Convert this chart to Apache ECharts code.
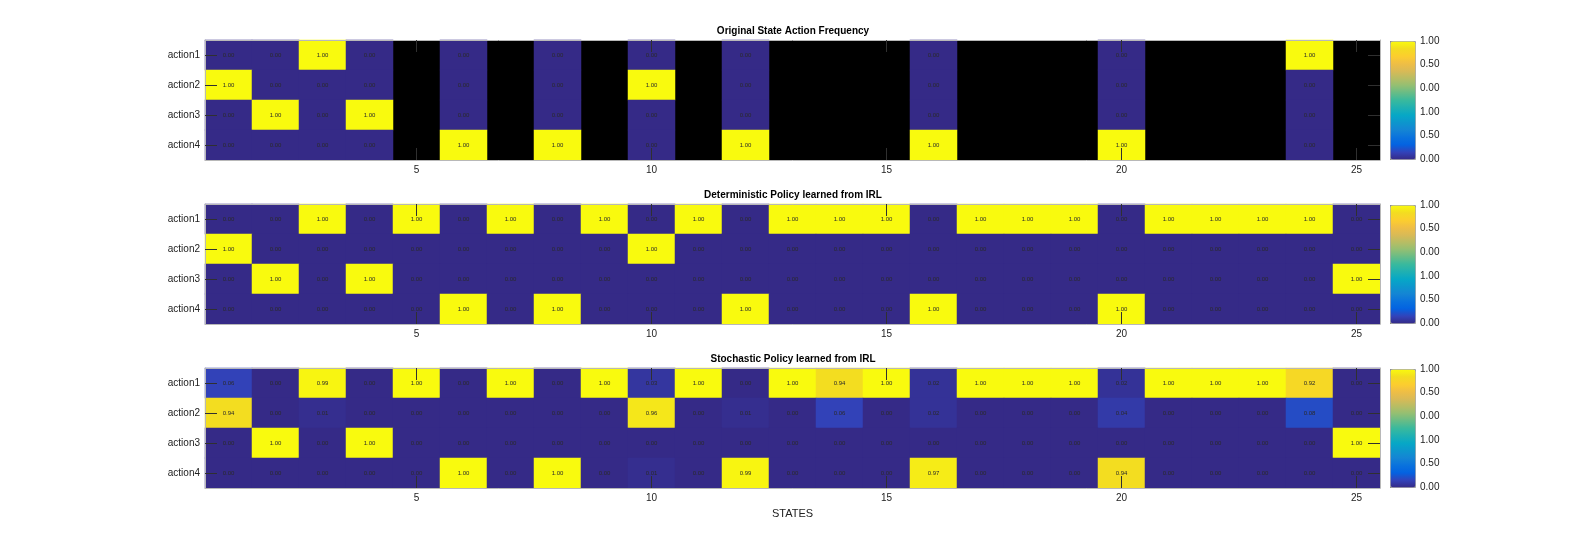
<!DOCTYPE html>
<html>
  <head>
    <meta charset="UTF-8">
    <title>State Action Policies</title>
    <script src="https://cdn.jsdelivr.net/npm/echarts@6/dist/echarts.min.js"></script>
    <style>
    * {
      margin: 0;
      padding: 0;
    }
    </style>
  </head>
  <body>
    <div id="main" style="width: 1581px;height: 548px"></div>

    <script>
// categories
var states = ['1', '2', '3', '4', '5', '6', '7', '8', '9', '10', '11', '12', '13',
  '14', '15', '16', '17', '18', '19', '20', '21', '22', '23', '24', '25']
var actions = ['action1', 'action2', 'action3', 'action4']
var titles = [
  'Original State Action Frequency',
  'Deterministic Policy learned from IRL',
  'Stochastic Policy learned from IRL'
]
// colorbar tick labels, bottom to top (as printed in the figure)
var cbarLabels = ['0.00', '0.50', '1.00', '0.00', '0.50', '1.00']

// original frequencies, null = state never visited (black)
var origA1 = [0, 0, 1, 0, null, 0, null, 0, null, 0, null, 0, null, null, null, 0, null, null, null, 0, null, null, null, 1, null]
var origA2 = [1, 0, 0, 0, null, 0, null, 0, null, 1, null, 0, null, null, null, 0, null, null, null, 0, null, null, null, 0, null]
var origA3 = [0, 1, 0, 1, null, 0, null, 0, null, 0, null, 0, null, null, null, 0, null, null, null, 0, null, null, null, 0, null]
var origA4 = [0, 0, 0, 0, null, 1, null, 1, null, 0, null, 1, null, null, null, 1, null, null, null, 1, null, null, null, 0, null]

// deterministic policy
var detA1 = [0, 0, 1, 0, 1, 0, 1, 0, 1, 0, 1, 0, 1, 1, 1, 0, 1, 1, 1, 0, 1, 1, 1, 1, 0]
var detA2 = [1, 0, 0, 0, 0, 0, 0, 0, 0, 1, 0, 0, 0, 0, 0, 0, 0, 0, 0, 0, 0, 0, 0, 0, 0]
var detA3 = [0, 1, 0, 1, 0, 0, 0, 0, 0, 0, 0, 0, 0, 0, 0, 0, 0, 0, 0, 0, 0, 0, 0, 0, 1]
var detA4 = [0, 0, 0, 0, 0, 1, 0, 1, 0, 0, 0, 1, 0, 0, 0, 1, 0, 0, 0, 1, 0, 0, 0, 0, 0]

// stochastic policy
var stoA1 = [0.06, 0, 0.99, 0, 1, 0, 1, 0, 1, 0.03, 1, 0, 1, 0.94, 1, 0.02, 1, 1, 1, 0.02, 1, 1, 1, 0.92, 0]
var stoA2 = [0.94, 0, 0.01, 0, 0, 0, 0, 0, 0, 0.96, 0, 0.01, 0, 0.06, 0, 0.02, 0, 0, 0, 0.04, 0, 0, 0, 0.08, 0]
var stoA3 = [0, 1, 0, 1, 0, 0, 0, 0, 0, 0, 0, 0, 0, 0, 0, 0, 0, 0, 0, 0, 0, 0, 0, 0, 1]
var stoA4 = [0, 0, 0, 0, 0, 1, 0, 1, 0, 0.01, 0, 0.99, 0, 0, 0, 0.97, 0, 0, 0, 0.94, 0, 0, 0, 0, 0]

var parula = ['#352a87', '#3243ba', '#0363e1', '#0a72dd', '#1485d4', '#0d96cd', '#06a7c6', '#1fb0b2',
  '#38b99e', '#65bc88', '#92bf73', '#b7bd64', '#d9ba56', '#efbe45', '#fcce2e', '#f3dc21', '#f9fa0e']

var FONT = '"Liberation Sans", Arial, Helvetica, sans-serif'

function toCells(rows) {
  var out = []
  rows.forEach(function (row, y) {
    row.forEach(function (v, x) {
      if (v !== null) out.push([x, y, v])
    })
  })
  return out
}

var panels = [
  [origA1, origA2, origA3, origA4],
  [detA1, detA2, detA3, detA4],
  [stoA1, stoA2, stoA3, stoA4]
]
var tops = [40, 204, 368]
var plotH = 120
var every5 = function (i) { return (i + 1) % 5 === 0 }

var option = {
  backgroundColor: '#fff',
  animation: false,
  title: [], grid: [], xAxis: [], yAxis: [], visualMap: [], series: []
}

panels.forEach(function (rows, k) {
  var top = tops[k]
  option.title.push({
    text: titles[k], left: 793, top: top - 14, textAlign: 'center', padding: 0,
    textStyle: { fontSize: 10, fontWeight: 'bold', color: '#000', fontFamily: FONT }
  })
  option.grid.push({
    left: 205, width: 1175, top: top, height: plotH,
    show: k === 0, backgroundColor: '#000', borderWidth: 0
  })
  // colorbar label grid
  option.grid.push({ left: 1390, width: 25, top: top + 1, height: plotH - 2 })

  var g = k * 2
  var lineStyle = { color: '#b8b8b8', width: 1 }
  var tickStyle = { color: '#303030', width: 1 }
  option.xAxis.push({
    type: 'category', gridIndex: g, data: states, position: 'bottom', zlevel: 1,
    axisLine: { show: true, lineStyle: lineStyle },
    axisTick: { show: true, inside: true, length: 12, alignWithLabel: true, interval: every5, lineStyle: tickStyle },
    axisLabel: { interval: every5, margin: 5, fontSize: 10, color: '#222', fontFamily: FONT },
    name: k === 2 ? 'STATES' : '', nameLocation: 'middle', nameGap: 20,
    nameTextStyle: { fontSize: 11, color: '#222', fontFamily: FONT }
  })
  option.xAxis.push({
    type: 'category', gridIndex: g, data: states, position: 'top', zlevel: 1,
    axisLine: { show: true, lineStyle: lineStyle },
    axisTick: { show: true, inside: true, length: 12, alignWithLabel: true, interval: every5, lineStyle: tickStyle },
    axisLabel: { show: false }
  })
  option.xAxis.push({ type: 'value', gridIndex: g + 1, show: false })

  option.yAxis.push({
    type: 'category', gridIndex: g, data: actions, inverse: true, position: 'left', zlevel: 1,
    axisLine: { show: true, lineStyle: lineStyle },
    axisTick: { show: true, inside: true, length: 12, alignWithLabel: true, lineStyle: tickStyle },
    axisLabel: { margin: 5, fontSize: 10, color: '#222', fontFamily: FONT }
  })
  option.yAxis.push({
    type: 'category', gridIndex: g, data: actions, inverse: true, position: 'right', zlevel: 1,
    axisLine: { show: true, lineStyle: lineStyle },
    axisTick: { show: true, inside: true, length: 12, alignWithLabel: true, lineStyle: tickStyle },
    axisLabel: { show: false }
  })
  option.yAxis.push({
    type: 'value', gridIndex: g + 1, min: 0, max: 5, interval: 1, position: 'right',
    axisLine: { show: false }, splitLine: { show: false },
    axisTick: { show: true, length: 3, lineStyle: { color: '#555' } },
    axisLabel: {
      margin: 5, fontSize: 10, color: '#222', fontFamily: FONT,
      formatter: function (v) { return cbarLabels[v] }
    }
  })

  option.visualMap.push({
    type: 'continuous', seriesIndex: k, min: 0, max: 1, calculable: false, hoverLink: false,
    left: 1390, top: top + 1, itemWidth: 25, itemHeight: plotH - 2, padding: 0,
    borderColor: '#a0a0a0', borderWidth: 1,
    inRange: { color: parula }
  })

  option.series.push({
    type: 'heatmap', xAxisIndex: k * 3, yAxisIndex: k * 3,
    data: toCells(rows),
    label: {
      show: true, fontSize: 6, color: '#2a2a2a', fontFamily: FONT,
      formatter: function (p) { return p.value[2].toFixed(2) }
    },
    emphasis: { disabled: true }
  })
})

var myChart = echarts.init(document.getElementById('main'))
myChart.setOption(option)
    </script>
  </body>
</html>
